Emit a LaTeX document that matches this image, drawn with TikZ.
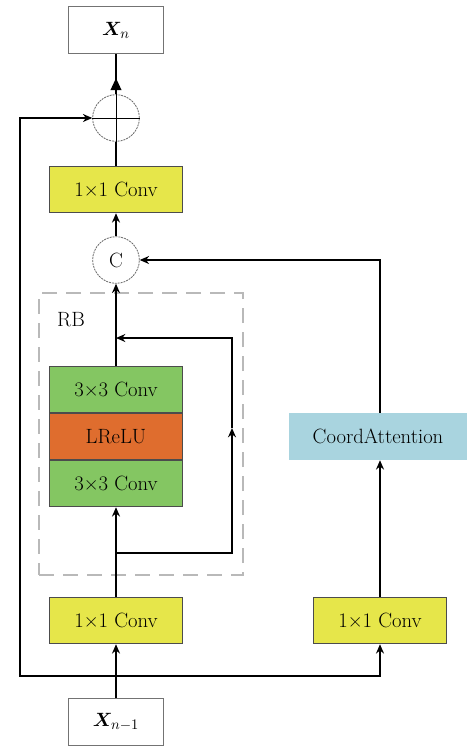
\documentclass[tikz,border=0pt]{standalone}
\usepackage{amsmath,bm}
\usetikzlibrary{arrows.meta,calc}
\definecolor{convyellow}{HTML}{E6E64A}
\definecolor{rbgreen}{HTML}{84C662}
\definecolor{actorange}{HTML}{DF6D2E}
\definecolor{cablue}{HTML}{A9D4DF}

\begin{document}
\begin{tikzpicture}[x=0.75pt,y=-0.75pt,font=\fontsize{15.5}{18}\selectfont,
  box/.style={draw=black!70,line width=0.6pt,minimum width=100pt,minimum height=35pt,inner sep=0pt},
  io/.style={draw=black!55,fill=white,line width=0.6pt,minimum width=71pt,minimum height=35pt,inner sep=0pt},
  op/.style={circle,draw=black!60,dash pattern=on 1.5pt off 0.7pt,line width=0.6pt,minimum size=35pt,inner sep=0pt},
  wire/.style={line width=1.2pt},
  link/.style={line width=1.2pt,-{Stealth[length=7pt,width=6pt]}}]
\useasboundingbox (0,0) rectangle (469,747);
% output side
\node[io] (xn) at (116,30) {$\bm{X}_{n}$};
\node[op] (add) at (116,118) {};
\draw[line width=0.6pt] (add.north)--(add.south) (add.west)--(add.east);
\node[box,fill=convyellow] (c1) at (116,189.5) {1×1 Conv};
\node[op] (cat) at (116,260) {C};
% residual block
\node[draw=gray!55,line width=2.2pt,dash pattern=on 11pt off 7pt,minimum width=153pt,minimum height=211.5pt] (rb) at (141,434) {};
\node (rblabel) at (71,320) {RB};
\node[box,fill=rbgreen] (g1) at (116,389.5) {3×3 Conv};
\node[box,fill=actorange] (act) at (116,436.5) {LReLU};
\node[box,fill=rbgreen] (g2) at (116,483.5) {3×3 Conv};
% input side
\node[box,fill=convyellow] (c2) at (116,620.5) {1×1 Conv};
\node[box,fill=convyellow] (c3) at (380,620.5) {1×1 Conv};
\node[box,draw=none,fill=cablue,minimum width=133.5pt] (ca) at (378,436.5) {CoordAttention};
\node[io] (xin) at (116,722) {$\bm{X}_{n-1}$};

\coordinate (fork) at (116,676);
\coordinate (skip) at (20,676);
\coordinate (rbin) at (116,553);
\coordinate (rbmid) at (232,428);
\coordinate (rbout) at (116,338);

\draw[link] (xin) -- (c2);
\draw[link] (fork) -- (skip) |- (add.west);
\draw[link] (fork) -| (c3.south);
\draw[link] (c3) -- (ca.south -| c3);
\draw[link] (ca.north -| c3) |- (cat.east);
\draw[link] (c2) -- (g2);
\draw[link] (rbin) -| (rbmid);
\draw[link] (rbmid) |- (rbout);
\draw[link] (g1) -- (cat);
\draw[link] (cat) -- (c1);
\draw[wire] (c1) -- (add);
\draw[wire] (add.north) -- (xn.south);
\draw[wire,-{Triangle[length=9pt,width=8pt]}] (add.north) -- ($(add.north)!0.4!(xn.south)$);
\end{tikzpicture}
\end{document}
